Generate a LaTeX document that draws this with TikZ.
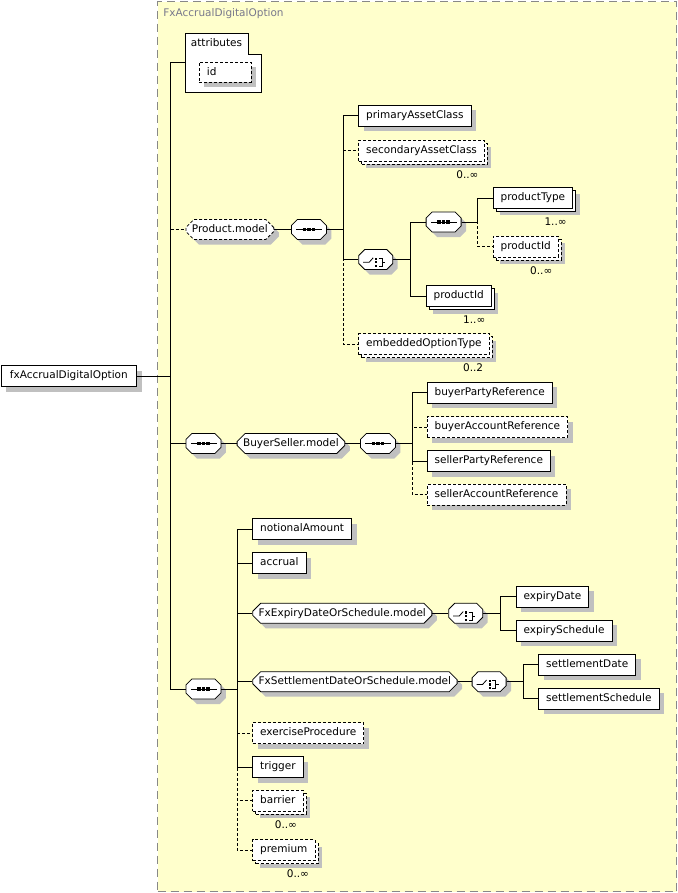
\documentclass[tikz,border=0pt]{standalone}
\usepackage{fontspec}
\setmainfont{DejaVu Sans}
\usetikzlibrary{shapes.misc, shadows}
\definecolor{groupfill}{RGB}{255,255,204}
\definecolor{groupline}{RGB}{136,136,136}
\definecolor{shadowgray}{RGB}{192,192,192}
\definecolor{titlegray}{RGB}{120,120,140}
\tikzset{x=1pt, y=-1pt, % one unit is one pixel, y grows downwards
every node/.style={font=\fontsize{10.5}{12}\selectfont},
dropped/.style={drop shadow={shadow xshift=5pt, shadow yshift=-5pt, fill=shadowgray, draw=none, opacity=1}},
stacked/.style={ % element that may occur several times
drop shadow={shadow xshift=7pt, shadow yshift=-7pt, fill=shadowgray, draw=none, opacity=1},
copy shadow={shadow xshift=3pt, shadow yshift=-3pt, fill=white, draw=black}},
elem/.style={draw, fill=white, anchor=west, minimum height=21pt, inner xsep=7.5pt, inner ysep=0pt,
text height=8pt, text depth=2.5pt},
opt/.style={dash pattern=on 3pt off 2pt}, % optional element
model/.style={chamfered rectangle, chamfered rectangle sep=4pt, draw, fill=white, anchor=west,
minimum height=20pt, inner xsep=2pt, inner ysep=0pt, text height=8pt, text depth=2.5pt, dropped},
seqsym/.style={model, minimum width=35pt, path picture={
\draw ([xshift=5pt]path picture bounding box.west) -- ([xshift=-4pt]path picture bounding box.east);
\foreach \d in {-4.5,0,4.5}
\fill[black] ([xshift=\d pt]path picture bounding box.center) +(-1.7,-1.7) rectangle +(1.7,1.7);}},
choicesym/.style={model, minimum width=34pt, path picture={
\begin{scope}[shift={(path picture bounding box.center)}]
\draw (-12.5,0) -- (-6.5,0) -- (-2.5,-4.5);
\foreach \d in {-3.6,0,3.6} \fill[black] (0.5,\d) +(-1.1,-1.1) rectangle +(1.1,1.1);
\draw (2.8,-4) -- (6.5,-4) -- (6.5,4) -- (2.8,4) (6.5,0) -- (9.5,0);
\end{scope}}},
card/.style={anchor=east, inner sep=0pt}}

\begin{document}
\begin{tikzpicture}[line width=0.8pt]
\useasboundingbox (0,0) rectangle (677,893);
% group box
\node[draw=groupline, fill=groupfill, line width=1.2pt, dash pattern=on 8pt off 5pt, anchor=north west,
minimum width=519pt, minimum height=890pt, inner sep=0pt] (group) at (157,1) {};
\node[anchor=west, inner sep=0pt, text=titlegray] (title) at (163,13.3) {FxAccrualDigitalOption};

\node[elem, dropped, inner xsep=9pt] (root) at (0.5,376) {fxAccrualDigitalOption};

% attributes
\node[anchor=north west, minimum width=75pt, minimum height=58pt, inner sep=0pt] (attr) at (185.5,33.5) {};
\draw[fill=white] (attr.north west) -- ([xshift=-12.5pt]attr.north east) -- ++(0,21) -| (attr.south east)
-- (attr.south west) -- cycle;
\node[anchor=north west, inner sep=0pt] (attrlabel) at ([xshift=5pt,yshift=-5pt]attr.north west) {attributes};
\node[elem, opt, dropped, text width=36pt, inner xsep=8pt, align=left, minimum height=20pt] (id) at (198.5,72.3) {id};

% Product.model
\node[model, opt] (prodmodel) at (185.5,229.5) {Product.model};
\node[seqsym] (prodseq) at (291,229.5) {};
\node[elem, dropped] (primary) at (358.3,115.5) {primaryAssetClass};
\node[elem, opt, stacked] (secondary) at (358.3,150.5) {secondaryAssetClass};
\node[card] (secondarycard) at ([xshift=-6pt,yshift=-13pt]secondary.south east) {0..∞};
\node[choicesym] (prodchoice) at (358.3,259.5) {};
\node[seqsym] (typeseq) at (425.7,222) {};
\node[elem, stacked] (producttype) at (492.7,198) {productType};
\node[card] (typecard) at ([xshift=-6pt,yshift=-13pt]producttype.south east) {1..∞};
\node[elem, opt, stacked] (productidopt) at (492.7,246.5) {productId};
\node[card] (idoptcard) at ([xshift=-6pt,yshift=-13pt]productidopt.south east) {0..∞};
\node[elem, stacked] (productid) at (425.7,296) {productId};
\node[card] (idcard) at ([xshift=-6pt,yshift=-13pt]productid.south east) {1..∞};
\node[elem, opt, stacked] (embedded) at (358.3,344) {embeddedOptionType};
\node[card] (embeddedcard) at ([xshift=-6pt,yshift=-13pt]embedded.south east) {0..2};

% BuyerSeller.model
\node[seqsym] (bsseq) at (185.5,443.5) {};
\node[model] (bsmodel) at (236.7,443.5) {BuyerSeller.model};
\node[seqsym] (bsinner) at (360,443.5) {};
\node[elem, dropped] (buyerparty) at (426.7,392.7) {buyerPartyReference};
\node[elem, opt, dropped] (buyeraccount) at (426.7,427) {buyerAccountReference};
\node[elem, dropped] (sellerparty) at (426.7,461) {sellerPartyReference};
\node[elem, opt, dropped] (selleraccount) at (426.7,494.7) {sellerAccountReference};

% option body
\node[seqsym] (mainseq) at (185.5,689) {};
\node[elem, dropped] (notional) at (252.3,529) {notionalAmount};
\node[elem, dropped] (accrual) at (252.3,563) {accrual};
\node[model] (expirymodel) at (252.3,613.3) {FxExpiryDateOrSchedule.model};
\node[choicesym] (expirychoice) at (448.3,613.3) {};
\node[elem, dropped] (expirydate) at (515.7,596.5) {expiryDate};
\node[elem, dropped] (expirysched) at (515.7,630.5) {expirySchedule};
\node[model] (settlemodel) at (252.3,681.7) {FxSettlementDateOrSchedule.model};
\node[choicesym] (settlechoice) at (471.7,681.7) {};
\node[elem, dropped] (settledate) at (538.3,664.5) {settlementDate};
\node[elem, dropped] (settlesched) at (538.3,698.8) {settlementSchedule};
\node[elem, opt, dropped] (exercise) at (252.3,733) {exerciseProcedure};
\node[elem, dropped] (trigger) at (252.3,767) {trigger};
\node[elem, opt, stacked] (barrier) at (252.3,800.5) {barrier};
\node[card] (barriercard) at ([xshift=-6pt,yshift=-13pt]barrier.south east) {0..∞};
\node[elem, opt, stacked] (premium) at (252.3,850) {premium};
\node[card] (premiumcard) at ([xshift=-6pt,yshift=-13pt]premium.south east) {0..∞};

% connectors
\draw (root.east) -| ([xshift=-15pt]attr.west) -- (attr.west);
\draw[opt] (root.east) -| ([xshift=-15pt]prodmodel.west) -- (prodmodel.west);
\draw (root.east) -| ([xshift=-15pt]bsseq.west) -- (bsseq.west);
\draw (root.east) -| ([xshift=-15pt]mainseq.west) -- (mainseq.west);

\draw (prodmodel.east) -- (prodseq.west);
\draw (prodseq.east) -| ([xshift=-15pt]primary.west) -- (primary.west);
\draw[opt] (prodseq.east) -| ([xshift=-15pt]secondary.west) -- (secondary.west);
\draw (prodseq.east) -| ([xshift=-15pt]prodchoice.west) -- (prodchoice.west);
\draw[opt] (prodseq.east) -| ([xshift=-15pt]embedded.west) -- (embedded.west);
\draw (prodchoice.east) -| ([xshift=-15.5pt]typeseq.west) -- (typeseq.west);
\draw (prodchoice.east) -| ([xshift=-15.5pt]productid.west) -- (productid.west);
\draw (typeseq.east) -| ([xshift=-15.5pt]producttype.west) -- (producttype.west);
\draw[opt] (typeseq.east) -| ([xshift=-15.5pt]productidopt.west) -- (productidopt.west);

\draw (bsseq.east) -- (bsmodel.west);
\draw (bsmodel.east) -- (bsinner.west);
\draw (bsinner.east) -| ([xshift=-14.5pt]buyerparty.west) -- (buyerparty.west);
\draw[opt] (bsinner.east) -| ([xshift=-14.5pt]buyeraccount.west) -- (buyeraccount.west);
\draw (bsinner.east) -| ([xshift=-14.5pt]sellerparty.west) -- (sellerparty.west);
\draw[opt] (bsinner.east) -| ([xshift=-14.5pt]selleraccount.west) -- (selleraccount.west);

\draw (mainseq.east) -| ([xshift=-15pt]notional.west) -- (notional.west);
\draw (mainseq.east) -| ([xshift=-15pt]accrual.west) -- (accrual.west);
\draw (mainseq.east) -| ([xshift=-15pt]expirymodel.west) -- (expirymodel.west);
\draw (mainseq.east) -| ([xshift=-15pt]settlemodel.west) -- (settlemodel.west);
\draw[opt] (mainseq.east) -| ([xshift=-15pt]exercise.west) -- (exercise.west);
\draw (mainseq.east) -| ([xshift=-15pt]trigger.west) -- (trigger.west);
\draw[opt] (mainseq.east) -| ([xshift=-15pt]barrier.west) -- (barrier.west);
\draw[opt] (mainseq.east) -| ([xshift=-15pt]premium.west) -- (premium.west);
\draw (expirymodel.east) -- (expirychoice.west);
\draw (expirychoice.east) -| ([xshift=-15.5pt]expirydate.west) -- (expirydate.west);
\draw (expirychoice.east) -| ([xshift=-15.5pt]expirysched.west) -- (expirysched.west);
\draw (settlemodel.east) -- (settlechoice.west);
\draw (settlechoice.east) -| ([xshift=-15pt]settledate.west) -- (settledate.west);
\draw (settlechoice.east) -| ([xshift=-15pt]settlesched.west) -- (settlesched.west);
\end{tikzpicture}
\end{document}
